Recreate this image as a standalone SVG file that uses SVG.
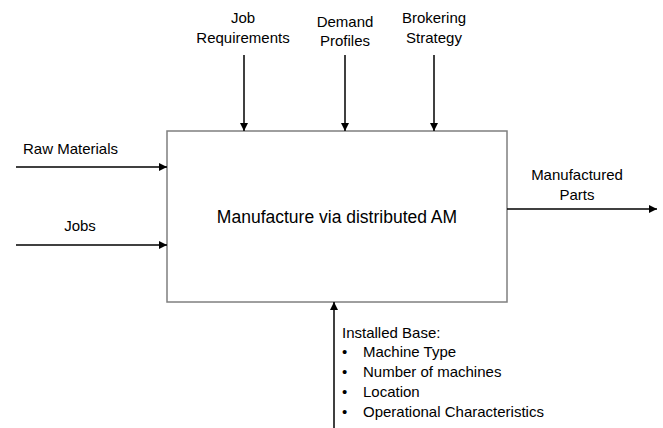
<svg xmlns="http://www.w3.org/2000/svg" width="663" height="428" viewBox="0 0 663 428">
  <defs>
    <marker id="arrow" markerWidth="8" markerHeight="8" refX="8" refY="4" orient="auto" markerUnits="userSpaceOnUse">
      <path d="M0,0 L8,4 L0,8 Z" fill="#000"/>
    </marker>
    <style>
      text { font-family: "Liberation Sans", Arial, sans-serif; font-size: 15px; fill: #000; }
      .mid { text-anchor: middle; }
      .title { font-size: 17.5px; }
      .flow { stroke: #000; stroke-width: 1.5; fill: none; marker-end: url(#arrow); }
      .box { fill: #fff; stroke: #7f7f7f; stroke-width: 1.5; }
    </style>
  </defs>
  <rect width="663" height="428" fill="#fff"/>

  <!-- activity box -->
  <g id="activity">
    <rect class="box" x="167" y="131" width="340" height="171"/>
    <text class="mid title" x="337" y="223">Manufacture via distributed AM</text>
  </g>

  <!-- inputs, controls, outputs and mechanism -->
  <g id="connectors">
    <line class="flow" x1="244" y1="55" x2="244" y2="131"/>
    <line class="flow" x1="345" y1="55" x2="345" y2="131"/>
    <line class="flow" x1="434" y1="55" x2="434" y2="131"/>
    <line class="flow" x1="16" y1="167" x2="167" y2="167"/>
    <line class="flow" x1="16" y1="245" x2="167" y2="245"/>
    <line class="flow" x1="507" y1="209" x2="657" y2="209"/>
    <line class="flow" x1="334" y1="428" x2="334" y2="302"/>
  </g>

  <g id="job-requirements">
    <text class="mid" x="243" y="23">Job</text>
    <text class="mid" x="243" y="43">Requirements</text>
  </g>
  <g id="demand-profiles">
    <text class="mid" x="345" y="27">Demand</text>
    <text class="mid" x="345" y="46">Profiles</text>
  </g>
  <g id="brokering-strategy">
    <text class="mid" x="434" y="23">Brokering</text>
    <text class="mid" x="434" y="43">Strategy</text>
  </g>
  <g id="raw-materials">
    <text x="23" y="154">Raw Materials</text>
  </g>
  <g id="jobs">
    <text class="mid" x="80" y="231">Jobs</text>
  </g>
  <g id="manufactured-parts">
    <text class="mid" x="577" y="180">Manufactured</text>
    <text class="mid" x="577" y="200">Parts</text>
  </g>
  <g id="installed-base">
    <text x="342" y="338">Installed Base:</text>
    <text x="342" y="357">•</text><text x="363" y="357">Machine Type</text>
    <text x="342" y="377">•</text><text x="363" y="377">Number of machines</text>
    <text x="342" y="397">•</text><text x="363" y="397">Location</text>
    <text x="342" y="417">•</text><text x="363" y="417">Operational Characteristics</text>
  </g>
</svg>
